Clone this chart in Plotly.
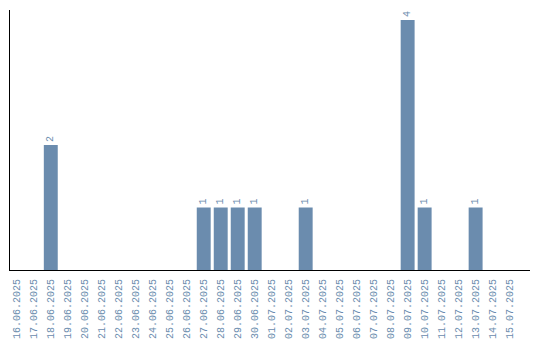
import plotly.graph_objects as go

dates = ["16.06.2025", "17.06.2025", "18.06.2025", "19.06.2025", "20.06.2025",
         "21.06.2025", "22.06.2025", "23.06.2025", "24.06.2025", "25.06.2025",
         "26.06.2025", "27.06.2025", "28.06.2025", "29.06.2025", "30.06.2025",
         "01.07.2025", "02.07.2025", "03.07.2025", "04.07.2025", "05.07.2025",
         "06.07.2025", "07.07.2025", "08.07.2025", "09.07.2025", "10.07.2025",
         "11.07.2025", "12.07.2025", "13.07.2025", "14.07.2025", "15.07.2025"]
counts = [0, 0, 2, 0, 0, 0, 0, 0, 0, 0, 0, 1, 1, 1, 1, 0, 0, 1, 0, 0,
          0, 0, 0, 4, 1, 0, 0, 1, 0, 0]

bar_color = "#6b8cae"
text_color = "#6b8cae"
labels = [str(v) if v > 0 else "" for v in counts]

fig = go.Figure(go.Bar(
    x=dates, y=counts, text=labels,
    textposition="outside", textangle=-90,
    textfont=dict(family="Liberation Mono", size=10, color=text_color),
    marker=dict(color=bar_color, line=dict(width=0)),
    cliponaxis=False,
))

fig.update_layout(
    width=540, height=340,
    margin=dict(l=10, r=10, t=10, b=70, autoexpand=False),
    paper_bgcolor="white", plot_bgcolor="white",
    showlegend=False, bargap=0.18,
    font=dict(family="Liberation Mono", size=10, color=text_color),
)
fig.update_xaxes(
    type="category", range=[-0.4, 30.2], automargin=False,
    tickangle=-90, showgrid=False, showline=True, linecolor="black", linewidth=1,
    ticks="outside", ticklen=4, tickcolor="rgba(0,0,0,0)",
    tickfont=dict(family="Liberation Mono", size=10, color=text_color),
)
fig.update_yaxes(
    range=[0, 4.16], showgrid=False, showline=True, linecolor="black", linewidth=1,
    showticklabels=False, ticks="", zeroline=False, automargin=False,
)

fig.write_html("out.html")
